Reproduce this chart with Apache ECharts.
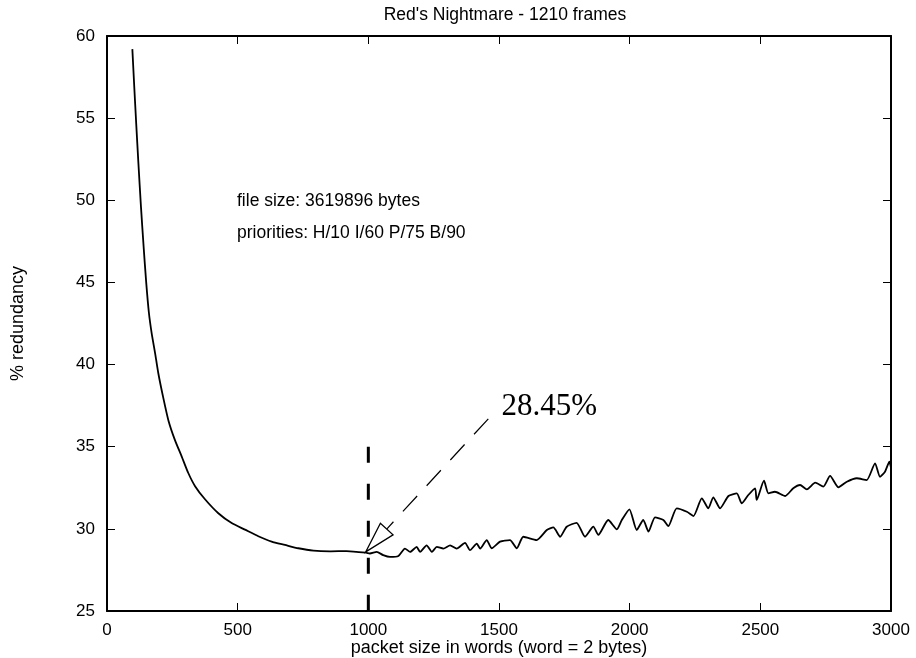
<!DOCTYPE html>
<html>
<head>
<meta charset="utf-8">
<title>Red's Nightmare - 1210 frames</title>
<script src="https://cdn.jsdelivr.net/npm/echarts@6/dist/echarts.min.js"></script>
<style>
  html, body { margin: 0; padding: 0; background: #fff; }
  #chart { width: 916px; height: 658px; }
</style>
</head>
<body>
<div id="chart"></div>
<script>
// packet size (words) and % redundancy
var packetSize = [97, 104, 112, 120, 130, 140, 150, 160, 171, 184, 196, 215, 235, 260, 286, 311, 337,
    375, 426, 477, 528, 579, 630, 681, 732, 790, 853, 917, 991, 1006, 1032, 1057, 1083, 1115, 1140, 1160, 1185,
    1198, 1223, 1243, 1262, 1287, 1313, 1338, 1370, 1389, 1415, 1428, 1453, 1472, 1504, 1542, 1568, 1593, 1644,
    1683, 1708, 1734, 1759, 1797, 1829, 1861, 1880, 1918, 1951, 1970, 1999, 2027, 2052, 2072, 2097, 2129, 2148,
    2180, 2219, 2244, 2276, 2301, 2320, 2346, 2378, 2410, 2429, 2454, 2480, 2486, 2514, 2531, 2556, 2595, 2626,
    2652, 2678, 2710, 2741, 2767, 2799, 2831, 2869, 2907, 2939, 2958, 2977, 2994, 3000];
var redundancy = [59.2, 57.0, 54.6, 52.3, 49.6, 47.2, 45.0, 43.2, 41.9, 40.7, 39.5, 38.0, 36.6, 35.4, 34.4, 33.4, 32.6,
    31.8, 30.95, 30.35, 29.95, 29.55, 29.22, 29.02, 28.82, 28.67, 28.63, 28.65, 28.55, 28.5, 28.6, 28.4, 28.29, 28.35, 28.8, 28.6, 28.9,
    28.6, 29.0, 28.6, 28.9, 28.8, 29.0, 28.8, 29.15, 28.7, 29.1, 28.8, 29.32, 28.82, 29.22, 29.32, 28.82, 29.52, 29.32,
    29.93, 30.09, 29.52, 30.13, 30.37, 29.52, 30.13, 29.63, 30.54, 29.97, 30.54, 31.19, 29.93, 30.54, 29.83, 30.7, 30.54, 30.17,
    31.25, 31.04, 30.78, 31.86, 31.25, 31.92, 31.25, 32.0, 32.16, 31.55, 32.06, 32.47, 31.76, 32.93, 32.16, 32.26, 32.0, 32.47,
    32.67, 32.4, 32.81, 32.57, 33.22, 32.53, 32.87, 33.08, 32.97, 33.99, 33.17, 33.48, 34.09, 33.7];

var xTicks = [0, 500, 1000, 1500, 2000, 2500, 3000];
var yTicks = [25, 30, 35, 40, 45, 50, 55, 60];

// annotation: optimum marker and arrow
var markerX = 1000;
var markerRange = [25, 35];
var arrowFrom = [1459, 36.7];
var arrowTo = [990, 28.6];
var labelAt = [1510, 37.45];
var arrowLabel = '28.45%';

var notes = ['file size: 3619896 bytes', 'priorities: H/10 I/60 P/75 B/90'];

var points = [];
for (var i = 0; i < packetSize.length; i++) {
    points.push([packetSize[i], redundancy[i]]);
}

var font = 'Liberation Sans';

function baseAxis(ticks) {
    return {
        type: 'value',
        min: ticks[0],
        max: ticks[ticks.length - 1],
        interval: ticks[1] - ticks[0],
        splitLine: { show: false },
        axisLine: { show: true, onZero: false, lineStyle: { color: '#000', width: 2 } },
        axisTick: { show: true, inside: true, length: 8, lineStyle: { color: '#000', width: 1 } }
    };
}

function plain(v) { return String(v); }

var xBottom = baseAxis(xTicks);
xBottom.position = 'bottom';
xBottom.name = 'packet size in words (word = 2 bytes)';
xBottom.nameLocation = 'middle';
xBottom.nameGap = 28;
xBottom.nameMoveOverlap = false;
xBottom.nameTextStyle = { color: '#000', fontFamily: font, fontSize: 18 };
xBottom.axisLabel = { color: '#000', fontFamily: font, fontSize: 17, margin: 11, formatter: plain };

var xTop = baseAxis(xTicks);
xTop.position = 'top';
xTop.axisLabel = { show: false };

var yLeft = baseAxis(yTicks);
yLeft.position = 'left';
yLeft.name = '% redundancy';
yLeft.nameLocation = 'middle';
yLeft.nameRotate = 90;
yLeft.nameGap = 80;
yLeft.nameMoveOverlap = false;
yLeft.nameTextStyle = { color: '#000', fontFamily: font, fontSize: 18 };
yLeft.axisLabel = { color: '#000', fontFamily: font, fontSize: 17, margin: 12, formatter: plain };

var yRight = baseAxis(yTicks);
yRight.position = 'right';
yRight.axisLabel = { show: false };

var option = {
    backgroundColor: '#fff',
    animation: false,
    title: {
        text: "Red's Nightmare - 1210 frames",
        left: 500,
        top: 1,
        textAlign: 'center',
        textStyle: { color: '#000', fontFamily: font, fontSize: 17.5, fontWeight: 'normal' }
    },
    grid: { left: 107, right: 25, top: 36, bottom: 47, outerBoundsMode: 'none' },
    xAxis: [xBottom, xTop],
    yAxis: [yLeft, yRight],
    graphic: [
        { type: 'text', left: 237, top: 192, style: { text: notes[0], fill: '#000', font: '17.5px "Liberation Sans"' } },
        { type: 'text', left: 237, top: 224, style: { text: notes[1], fill: '#000', font: '17.5px "Liberation Sans"' } }
    ],
    series: [
        {
            type: 'line',
            xAxisIndex: 0,
            yAxisIndex: 0,
            data: points,
            showSymbol: false,
            symbol: 'none',
            smooth: 0.2,
            lineStyle: { color: '#000', width: 1.8 },
            silent: true
        },
        {
            type: 'custom',
            xAxisIndex: 0,
            yAxisIndex: 0,
            silent: true,
            clip: false,
            data: [arrowTo],
            renderItem: function(params, api) {
                var a = api.coord(arrowFrom);
                var b = api.coord(arrowTo);
                var dx = a[0] - b[0], dy = a[1] - b[1];
                var len = Math.sqrt(dx * dx + dy * dy);
                var ux = dx / len, uy = dy / len;
                var headLen = 31, headHalf = 8.6;
                var base = [b[0] + ux * headLen, b[1] + uy * headLen];
                var c1 = [base[0] - uy * headHalf, base[1] + ux * headHalf];
                var c2 = [base[0] + uy * headHalf, base[1] - ux * headHalf];
                var m1 = api.coord([markerX, markerRange[1]]);
                var m0 = api.coord([markerX, markerRange[0]]);
                var t = api.coord(labelAt);
                return {
                    type: 'group',
                    children: [
                        {
                            type: 'line',
                            shape: { x1: m1[0], y1: m1[1], x2: m0[0], y2: m0[1] },
                            style: { stroke: '#000', lineWidth: 3, lineDash: [16, 21] }
                        },
                        {
                            type: 'line',
                            shape: { x1: a[0], y1: a[1], x2: base[0], y2: base[1] },
                            style: { stroke: '#000', lineWidth: 1.2, lineDash: [21, 14] }
                        },
                        {
                            type: 'polygon',
                            shape: { points: [b, c1, c2] },
                            style: { stroke: '#000', lineWidth: 1.3, fill: '#fff' }
                        },
                        {
                            type: 'text',
                            style: {
                                text: arrowLabel,
                                x: t[0],
                                y: t[1],
                                fill: '#000',
                                font: '31px "Liberation Serif"',
                                align: 'left',
                                verticalAlign: 'middle'
                            }
                        }
                    ]
                };
            }
        }
    ]
};

var myChart = echarts.init(document.getElementById('chart'));
myChart.setOption(option);
</script>
</body>
</html>
